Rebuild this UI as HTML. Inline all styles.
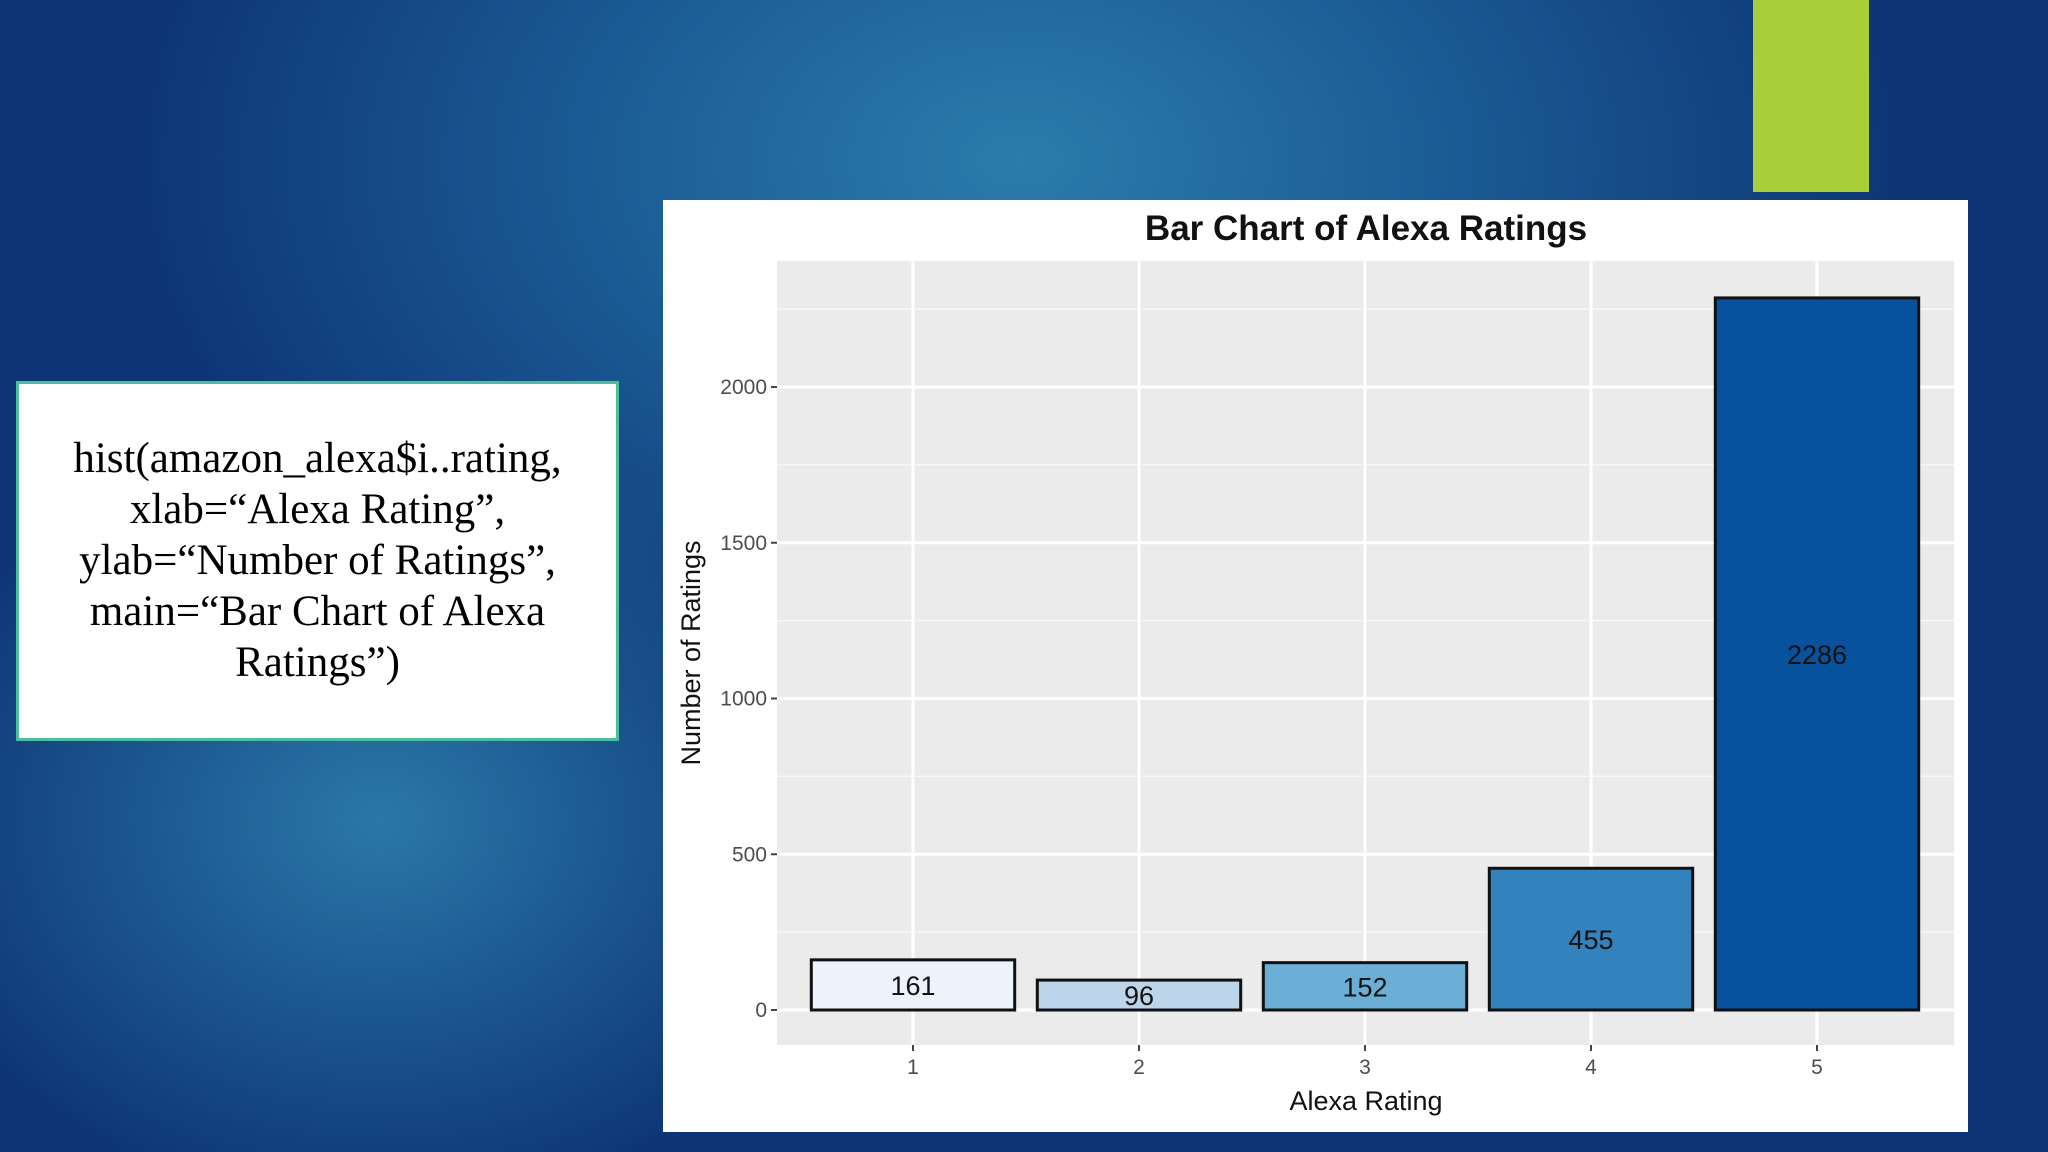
<!DOCTYPE html>
<html><head><meta charset="utf-8"><style>
body{margin:0;width:2048px;height:1152px;overflow:hidden;position:relative;font-family:"Liberation Sans",sans-serif;
background:radial-gradient(ellipse 900px 600px at 1020px 160px,#2b7cab 0%,#1c5d96 45%,rgba(16,60,130,0) 100%),radial-gradient(ellipse 500px 400px at 380px 820px,#2a78a8 0%,rgba(30,90,150,0) 100%),#0d3475;}
#green{position:absolute;left:1753px;top:0;width:116px;height:192px;background:#a8cf38}
#code{position:absolute;left:16px;top:381px;width:597px;height:354px;background:#fff;border:3px solid #4cbf9a;font-family:"Liberation Serif",serif;font-size:43px;line-height:51px;text-align:center;box-sizing:content-box}
#code div{padding-top:49px}
#panel{position:absolute;left:663px;top:200px;width:1305px;height:932px;background:#fff}
</style></head><body>
<div id="green"></div>
<div id="code"><div>hist(amazon_alexa$i..rating,<br>xlab=“Alexa Rating”,<br>ylab=“Number of Ratings”,<br>main=“Bar Chart of Alexa<br>Ratings”)</div></div>
<div id="panel"></div>
<svg id="chart" width="2048" height="1152" style="position:absolute;left:0;top:0"></svg>
<script>
const categories=["1","2","3","4","5"];
const counts=[161,96,152,455,2286];
const colors=["#eef3fb","#bdd5ea","#6baed6","#3182bd","#08519c"];
const yTicks=[0,500,1000,1500,2000];
const NS="http://www.w3.org/2000/svg";
const svg=document.getElementById('chart');
const pl=777,pr=1954,pt=261,pb=1045;
const y0=1010,yk=(1010-387)/2000;
function ys(v){return y0-v*yk;}
const step=226,x1=913;
function xs(i){return x1+i*step;}
function mk(t,a,p){const e=document.createElementNS(NS,t);for(const k in a)e.setAttribute(k,a[k]);(p||svg).appendChild(e);return e;}
let e=mk('rect',{x:pl,y:pt,width:pr-pl,height:pb-pt,fill:'#ebebeb'});


for(let i=0;i<yTicks.length-1;i++){const v=(yTicks[i]+yTicks[i+1])/2;e=mk('line',{x1:pl,x2:pr,y1:ys(v),y2:ys(v),stroke:'#f7f7f7','stroke-width':1.5});

}
{const v=2250;e=mk('line',{x1:pl,x2:pr,y1:ys(v),y2:ys(v),stroke:'#f7f7f7','stroke-width':1.5});

}
yTicks.forEach(v=>{e=mk('line',{x1:pl,x2:pr,y1:ys(v),y2:ys(v),stroke:'#fff','stroke-width':3});


e=mk('line',{x1:pl-6,x2:pl,y1:ys(v),y2:ys(v),stroke:'#444','stroke-width':2});


e=mk('text',{x:pl-10,y:ys(v)+7,'text-anchor':'end','font-size':21,fill:'#4d4d4d'});e.textContent=v;

});
categories.forEach((c,i)=>{const x=xs(i);
e=mk('line',{x1:x,x2:x,y1:pt,y2:pb,stroke:'#fff','stroke-width':3});


e=mk('line',{x1:x,x2:x,y1:pb,y2:pb+6,stroke:'#444','stroke-width':2});


e=mk('text',{x:x,y:pb+29,'text-anchor':'middle','font-size':21,fill:'#4d4d4d'});e.textContent=c;

});
categories.forEach((c,i)=>{const w=step*0.9,x=xs(i)-w/2,yt=ys(counts[i]);
e=mk('rect',{x:x,y:yt,width:w,height:y0-yt,fill:colors[i],stroke:'#111','stroke-width':3});


e=mk('text',{x:xs(i),y:ys(counts[i]/2)+10,'text-anchor':'middle','font-size':27,fill:'#111'});e.textContent=counts[i];

});
e=mk('text',{x:1366,y:240,'text-anchor':'middle','font-size':35,'font-weight':'bold',fill:'#111'});e.textContent='Bar Chart of Alexa Ratings';


e=mk('text',{x:1366,y:1110,'text-anchor':'middle','font-size':27,fill:'#111'});e.textContent='Alexa Rating';


e=mk('text',{x:0,y:0,'text-anchor':'middle','font-size':27,fill:'#111',transform:'translate(700,653) rotate(-90)'});e.textContent='Number of Ratings';


</script>
</body></html>
